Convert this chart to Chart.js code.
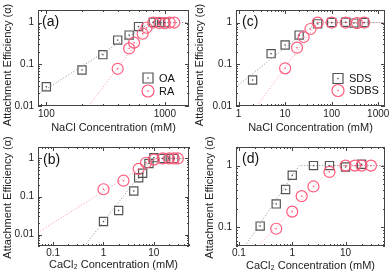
<!DOCTYPE html>
<html>
<head>
<meta charset="utf-8">
<script src="https://cdn.jsdelivr.net/npm/chart.js@4"></script>
<style>
    html, body { margin: 0; padding: 0; background: #fff; }
    #wrap { position: relative; width: 392px; height: 278px; overflow: hidden; }
    canvas { position: absolute; }
</style>
</head>
<body>
<div id="wrap">
    <canvas id="panel-a" width="196" height="137" style="left:0;top:0;width:196px;height:137px"></canvas>
    <canvas id="panel-b" width="196" height="141" style="left:0;top:137px;width:196px;height:141px"></canvas>
    <canvas id="panel-c" width="198" height="137" style="left:194px;top:0;width:198px;height:137px"></canvas>
    <canvas id="panel-d" width="198" height="141" style="left:194px;top:137px;width:198px;height:141px"></canvas>
</div>
<script>
// (a) NaCl, OA / RA
const naclOAConc = [100, 200, 300, 400, 500, 600, 800, 900, 1000];
const naclOAAlpha = [0.029, 0.073, 0.17, 0.38, 0.50, 0.80, 1.02, 1.0, 1.0];
const naclRAConc = [400, 500, 550, 650, 700, 800, 900, 1000, 1100, 1200];
const naclRAAlpha = [0.078, 0.24, 0.33, 0.54, 0.75, 1.0, 0.98, 0.97, 1.0, 1.0];
const naclOAFitConc = [85, 760, 1600];
const naclOAFitAlpha = [0.019, 1, 1];
const naclRAFitConc = [228, 780, 1600];
const naclRAFitAlpha = [0.01, 1, 1];

// (b) CaCl2, OA / RA
const caOAConc = [1, 2, 4, 5, 6, 8, 10, 15, 20, 25];
const caOAAlpha = [0.022, 0.043, 0.14, 0.31, 0.41, 0.74, 1.05, 1.0, 1.0, 1.0];
const caRAConc = [1, 2.5, 5, 7, 10, 15, 20, 25, 30];
const caRAAlpha = [0.155, 0.26, 0.53, 0.77, 0.93, 1.0, 1.0, 1.0, 1.0];
const caOAFitConc = [0.42, 9.5, 50];
const caOAFitAlpha = [0.005, 1, 1];
const caRAFitConc = [0.05, 11, 50];
const caRAFitAlpha = [0.0114, 1, 1];

// (c) NaCl, SDS / SDBS
const naclSDSConc = [2, 5, 10, 20, 50, 100, 200, 300, 500];
const naclSDSAlpha = [0.042, 0.18, 0.29, 0.50, 0.93, 1.0, 1.02, 0.97, 1.0];
const naclSDBSConc = [10, 18, 25, 35, 50, 100, 200, 350, 500];
const naclSDBSAlpha = [0.08, 0.25, 0.45, 0.70, 1.0, 1.0, 1.0, 0.97, 1.0];
const naclSDSFitConc = [0.88, 48, 1400];
const naclSDSFitAlpha = [0.029, 1, 1];
const naclSDBSFitConc = [2.5, 50, 1400];
const naclSDBSFitAlpha = [0.01, 1, 1];

// (d) CaCl2, SDS / SDBS
const caSDSConc = [0.25, 0.5, 0.75, 1, 2.5, 5, 10, 20];
const caSDSAlpha = [0.105, 0.24, 0.41, 0.70, 1.0, 1.0, 0.95, 1.05];
const caSDBSConc = [0.5, 1, 1.5, 2.5, 5, 10, 15, 20, 30];
const caSDBSAlpha = [0.095, 0.18, 0.32, 0.46, 0.79, 1.0, 1.0, 1.0, 1.0];
const caSDSFitConc = [0.13, 1.35, 55];
const caSDSFitAlpha = [0.05, 1, 1];
const caSDBSFitConc = [0.23, 6, 55];
const caSDBSFitAlpha = [0.05, 1, 1];

const Y_TITLE = 'Attachment Efficiency (α)';
const GRAY = '#555555';
const GRAY_LINE = '#8c8c8c';
const PINK = '#ff5c7c';
const PINK_LINE = '#ff8ea3';
const FONT = '"Liberation Sans", Arial, sans-serif';

Chart.defaults.font.family = FONT;
Chart.defaults.color = '#222';

const toPoints = (xs, ys) => xs.map((x, i) => ({ x, y: ys[i] }));

function markerSet(label, xs, ys, style, color) {
    return {
        label,
        data: toPoints(xs, ys),
        pointStyle: style,
        pointRadius: style === 'rect' ? 5.8 : 5.5,
        borderColor: color,
        backgroundColor: 'rgba(0,0,0,0)',
        pointBorderWidth: 1.2,
        showLine: false,
        centerDot: true
    };
}

function fitSet(xs, ys, color) {
    return {
        data: toPoints(xs, ys),
        showLine: true,
        pointRadius: 0,
        borderColor: color,
        borderWidth: 1,
        borderDash: [1, 2],
        fill: false
    };
}

// only decade labels on both axes
function decadeTicks(scale) {
    const ticks = [];
    const lo = Math.floor(Math.log10(scale.min));
    const hi = Math.ceil(Math.log10(scale.max));
    for (let e = lo; e <= hi; e++) {
        const v = Math.pow(10, e);
        if (v >= scale.min * 0.999 && v <= scale.max * 1.001) ticks.push({ value: v });
    }
    scale.ticks = ticks;
}

function logSteps(scale) {
    const out = [];
    const lo = Math.floor(Math.log10(scale.min));
    const hi = Math.ceil(Math.log10(scale.max));
    for (let e = lo; e <= hi; e++) {
        for (let m = 1; m <= 9; m++) {
            const v = m * Math.pow(10, e);
            if (v >= scale.min && v <= scale.max) {
                out.push({ px: scale.getPixelForValue(v), major: m === 1 });
            }
        }
    }
    return out;
}

// frame, inward ticks, y title, panel tag, legend and the dot inside each marker
const panelDecor = {
    id: 'panelDecor',
    afterDraw(chart, args, opts) {
        const { ctx, chartArea: a } = chart;
        const xs = chart.scales.x, ys = chart.scales.y;
        ctx.save();

        chart.data.datasets.forEach((ds, i) => {
            if (!ds.centerDot) return;
            ctx.fillStyle = ds.borderColor;
            chart.getDatasetMeta(i).data.forEach(el => {
                ctx.fillRect(el.x - 0.7, el.y - 0.7, 1.4, 1.4);
            });
        });

        ctx.strokeStyle = '#444';
        ctx.lineWidth = 1;
        ctx.strokeRect(a.left + 0.5, a.top + 0.5, a.right - a.left - 1, a.bottom - a.top - 1);
        ctx.beginPath();
        logSteps(xs).forEach(t => {
            const len = t.major ? 4 : 2;
            const px = Math.round(t.px) + 0.5;
            ctx.moveTo(px, a.bottom); ctx.lineTo(px, a.bottom - len);
            ctx.moveTo(px, a.top); ctx.lineTo(px, a.top + len);
        });
        logSteps(ys).forEach(t => {
            const len = t.major ? 4 : 2;
            const py = Math.round(t.px) + 0.5;
            ctx.moveTo(a.left, py); ctx.lineTo(a.left + len, py);
            ctx.moveTo(a.right, py); ctx.lineTo(a.right - len, py);
        });
        ctx.stroke();

        ctx.fillStyle = '#222';
        ctx.font = `11px ${FONT}`;
        ctx.textAlign = 'center';
        ctx.textBaseline = 'middle';
        ctx.save();
        ctx.translate(opts.yTitleX, opts.yTitleY);
        ctx.rotate(-Math.PI / 2);
        ctx.fillText(Y_TITLE, 0, 0);
        ctx.restore();

        ctx.fillStyle = '#111';
        ctx.font = `14px ${FONT}`;
        ctx.textAlign = 'left';
        ctx.fillText(opts.tag, a.left + opts.tagDx, a.top + opts.tagDy);

        if (opts.legend) {
            const lg = opts.legend;
            ctx.font = `11px ${FONT}`;
            lg.items.forEach((it, k) => {
                const cx = a.right + lg.dx;
                const cy = a.bottom + lg.dy + k * lg.gap;
                ctx.strokeStyle = it.color;
                ctx.lineWidth = 1.2;
                ctx.beginPath();
                if (it.style === 'rect') {
                    ctx.rect(cx - 5, cy - 5, 10, 10);
                } else {
                    ctx.arc(cx, cy, 6, 0, Math.PI * 2);
                }
                ctx.stroke();
                ctx.fillStyle = it.color;
                ctx.fillRect(cx - 0.7, cy - 0.7, 1.4, 1.4);
                ctx.fillStyle = '#111';
                ctx.fillText(it.label, cx + 11, cy + 0.5);
            });
        }
        ctx.restore();
    }
};

function makePanel(id, p) {
    const canvas = document.getElementById(id);
    const W = canvas.width, H = canvas.height;
    return new Chart(canvas, {
        type: 'scatter',
        data: { datasets: p.datasets },
        plugins: [panelDecor],
        options: {
            responsive: false,
            animation: false,
            events: [],
            layout: { padding: { left: 0, right: W - p.right, top: p.top, bottom: 0 } },
            plugins: {
                legend: { display: false },
                tooltip: { enabled: false },
                panelDecor: {
                    tag: p.tag, tagDx: p.tagDx, tagDy: p.tagDy, legend: p.legend,
                    yTitleX: p.yTitleX, yTitleY: p.yTitleY
                }
            },
            scales: {
                x: {
                    type: 'logarithmic',
                    min: p.xMin,
                    max: p.xMax,
                    afterBuildTicks: decadeTicks,
                    afterFit: s => { s.height = H - p.bottom; },
                    grid: { display: false, drawTicks: false },
                    border: { display: false },
                    ticks: {
                        autoSkip: false,
                        maxRotation: 0,
                        padding: p.xTickPad,
                        font: { size: 10 },
                        callback: v => String(+Number(v).toPrecision(6))
                    },
                    title: {
                        display: true,
                        text: p.xTitle,
                        font: { size: 11, lineHeight: 1 },
                        padding: { top: 0, bottom: p.xTitlePad }
                    }
                },
                y: {
                    type: 'logarithmic',
                    min: p.yMin,
                    max: p.yMax,
                    afterBuildTicks: decadeTicks,
                    afterFit: s => { s.width = p.left; },
                    grid: { display: false, drawTicks: false },
                    border: { display: false },
                    ticks: {
                        autoSkip: false,
                        padding: 4,
                        font: { size: 10 },
                        callback: v => String(+Number(v).toPrecision(6))
                    },
                    title: { display: false }
                }
            }
        }
    });
}

makePanel('panel-a', {
    tag: '(a)', tagDx: 4, tagDy: 12,
    left: 38, right: 191, top: 2, bottom: 106,
    xMin: 85, xMax: 1600, yMin: 0.01, yMax: 2,
    xTitle: 'NaCl Concentration (mM)', xTickPad: 2, xTitlePad: 3.5,
    yTitleX: 8, yTitleY: 65,
    legend: { dx: -41, dy: -28, gap: 13, items: [
        { label: 'OA', style: 'rect', color: GRAY },
        { label: 'RA', style: 'circle', color: PINK }
    ] },
    datasets: [
        fitSet(naclOAFitConc, naclOAFitAlpha, GRAY_LINE),
        fitSet(naclRAFitConc, naclRAFitAlpha, PINK_LINE),
        markerSet('RA', naclRAConc, naclRAAlpha, 'circle', PINK),
        markerSet('OA', naclOAConc, naclOAAlpha, 'rect', GRAY)
    ]
});

makePanel('panel-b', {
    tag: '(b)', tagDx: 5, tagDy: 13,
    left: 38, right: 191, top: 2, bottom: 109,
    xMin: 0.05, xMax: 50, yMin: 0.005, yMax: 2,
    xTitle: 'CaCl₂ Concentration (mM)', xTickPad: 1, xTitlePad: 7.5,
    yTitleX: 8, yTitleY: 60.5,
    datasets: [
        fitSet(caOAFitConc, caOAFitAlpha, GRAY_LINE),
        fitSet(caRAFitConc, caRAFitAlpha, PINK_LINE),
        markerSet('RA', caRAConc, caRAAlpha, 'circle', PINK),
        markerSet('OA', caOAConc, caOAAlpha, 'rect', GRAY)
    ]
});

makePanel('panel-c', {
    tag: '(c)', tagDx: 6, tagDy: 12,
    left: 42, right: 192, top: 2, bottom: 106,
    xMin: 0.88, xMax: 1400, yMin: 0.01, yMax: 2,
    xTitle: 'NaCl Concentration (mM)', xTickPad: 2, xTitlePad: 3.5,
    yTitleX: 6, yTitleY: 65,
    legend: { dx: -47, dy: -27.5, gap: 12, items: [
        { label: 'SDS', style: 'rect', color: GRAY },
        { label: 'SDBS', style: 'circle', color: PINK }
    ] },
    datasets: [
        fitSet(naclSDSFitConc, naclSDSFitAlpha, GRAY_LINE),
        fitSet(naclSDBSFitConc, naclSDBSFitAlpha, PINK_LINE),
        markerSet('SDBS', naclSDBSConc, naclSDBSAlpha, 'circle', PINK),
        markerSet('SDS', naclSDSConc, naclSDSAlpha, 'rect', GRAY)
    ]
});

makePanel('panel-d', {
    tag: '(d)', tagDx: 6, tagDy: 12,
    left: 42, right: 192, top: 2, bottom: 109,
    xMin: 0.088, xMax: 55, yMin: 0.05, yMax: 2,
    xTitle: 'CaCl₂ Concentration (mM)', xTickPad: 1, xTitlePad: 7,
    yTitleX: 16, yTitleY: 60.5,
    datasets: [
        fitSet(caSDSFitConc, caSDSFitAlpha, GRAY_LINE),
        fitSet(caSDBSFitConc, caSDBSFitAlpha, PINK_LINE),
        markerSet('SDBS', caSDBSConc, caSDBSAlpha, 'circle', PINK),
        markerSet('SDS', caSDSConc, caSDSAlpha, 'rect', GRAY)
    ]
});
</script>
</body>
</html>
